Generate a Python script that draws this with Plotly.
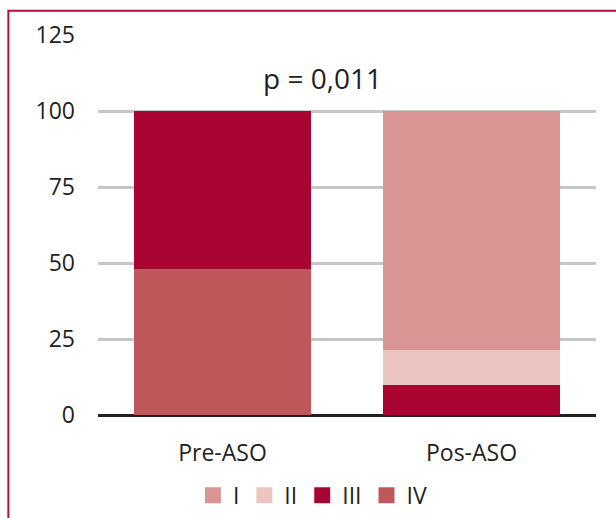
import plotly.graph_objects as go

# Stacked percentage by class, before and after ASO
categories = ["Pre-ASO", "Pos-ASO"]
class_labels = ["IV", "III", "II", "I"]  # stacking order, bottom to top
legend_order = ["I", "II", "III", "IV"]
values = {
    "IV": [48, 0],
    "III": [52, 10],
    "II": [0, 11.5],
    "I": [0, 78.5],
}
colors = {
    "I": "#d99593",
    "II": "#ebc6c1",
    "III": "#a90533",
    "IV": "#c0585b",
}
y_ticks = [0, 25, 50, 75, 100, 125]
p_text = "p = 0,011"

FONT = "Open Sans"
TXT = "#231f20"

fig = go.Figure()
for name in class_labels:
    fig.add_trace(go.Bar(
        x=categories,
        y=values[name],
        name=name,
        marker=dict(color=colors[name], line=dict(width=0)),
        width=0.71,
        showlegend=False,
    ))

# legend keys as larger square markers
for name in legend_order:
    fig.add_trace(go.Scatter(
        x=[None], y=[None],
        mode="markers",
        name=name,
        marker=dict(symbol="square", size=16, color=colors[name]),
        showlegend=True,
    ))

fig.update_layout(
    barmode="stack",
    width=616,
    height=518,
    margin=dict(l=98, r=20, t=35, b=103, autoexpand=False),
    paper_bgcolor="white",
    plot_bgcolor="white",
    font=dict(family=FONT, color=TXT),
    legend=dict(
        orientation="h",
        traceorder="normal",
        xref="container", yref="container",
        x=0.508, y=0.044,
        xanchor="center", yanchor="middle",
        font=dict(size=23, color=TXT, family=FONT),
        itemwidth=30,
        bgcolor="rgba(0,0,0,0)",
    ),
    xaxis=dict(
        showgrid=False,
        showline=False,
        automargin=False,
        tickfont=dict(size=23, color=TXT, family=FONT),
        ticks="",
        ticklabelstandoff=22,
    ),
    yaxis=dict(
        range=[0, 125],
        tickvals=y_ticks,
        automargin=False,
        showgrid=True,
        gridcolor="#c6c6c6",
        gridwidth=2.5,
        zeroline=True,
        zerolinecolor="#231f20",
        zerolinewidth=3,
        showline=False,
        ticks="",
        tickfont=dict(size=23, color=TXT, family=FONT),
        ticklabelstandoff=22,
    ),
    annotations=[
        dict(
            text=p_text,
            xref="paper", yref="y",
            x=0.45, y=111.0,
            showarrow=False,
            font=dict(size=28, color=TXT, family=FONT),
        )
    ],
    shapes=[
        dict(
            type="rect",
            xref="paper", yref="paper",
            x0=-0.18, x1=1.2, y0=-0.5, y1=1.064,
            line=dict(color="#b0103a", width=2),
            fillcolor="rgba(0,0,0,0)",
            layer="below",
        )
    ],
)

fig.write_html("out.html")
